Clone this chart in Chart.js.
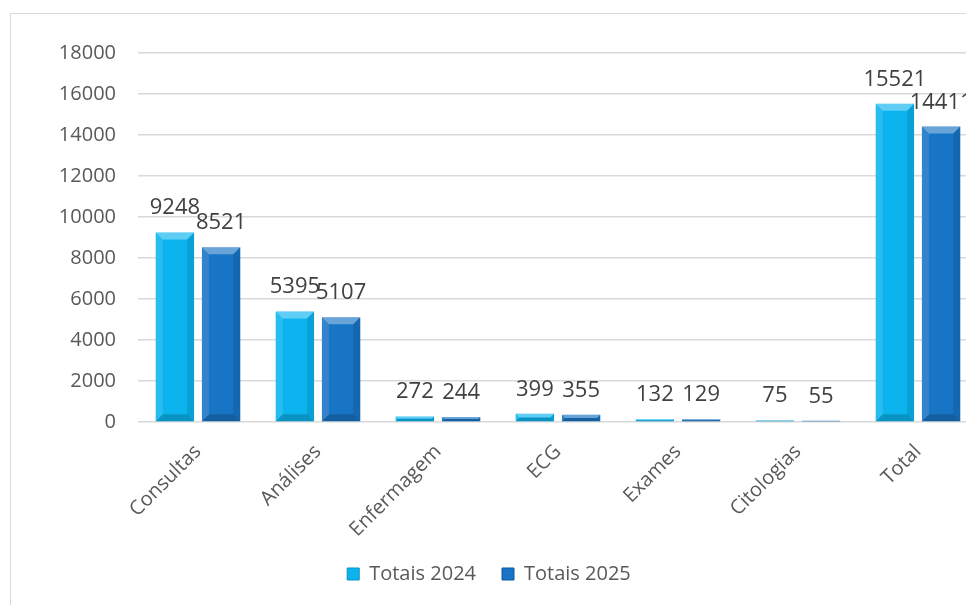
<!DOCTYPE html>
<html>
<head>
<meta charset="utf-8">
<script src="https://cdn.jsdelivr.net/npm/chart.js@4.4.1/dist/chart.umd.min.js"></script>
<style>
  html, body { margin: 0; padding: 0; background: #fff; overflow: hidden; }
  #frame { position: absolute; left: 10px; top: 13px; width: 1100px; height: 700px; border: 1px solid #d9d9d9; }
  #wrap { position: absolute; left: 0; top: 0; width: 1000px; height: 605px; }
</style>
</head>
<body>
<div id="frame"></div>
<div id="wrap"><canvas id="myChart"></canvas></div>
<script>
const categorias = ['Consultas', 'Análises', 'Enfermagem', 'ECG', 'Exames', 'Citologias', 'Total'];
const totais2024 = [9248, 5395, 272, 399, 132, 75, 15521];
const totais2025 = [8521, 5107, 244, 355, 129, 55, 14411];

const cor2024 = '#0BB4EE';
const cor2025 = '#1874C4';

// gradiente horizontal para dar o ar "bisel" do Excel
function gradiente(base, claro) {
    return function (context) {
        const chart = context.chart;
        const el = context.element;
        if (!el || !chart.chartArea || !Number.isFinite(el.x) || !Number.isFinite(el.width)) return base;
        const w = el.width;
        const g = chart.ctx.createLinearGradient(el.x - w / 2, 0, el.x + w / 2, 0);
        g.addColorStop(0, base);
        g.addColorStop(0.45, claro);
        g.addColorStop(1, base);
        return g;
    };
}

const bisel = {
    id: 'bisel',
    afterDatasetsDraw(chart) {
        const ctx = chart.ctx;
        ctx.save();
        chart.data.datasets.forEach((ds, i) => {
            chart.getDatasetMeta(i).data.forEach(bar => {
                const l = bar.x - bar.width / 2, r = bar.x + bar.width / 2;
                const t = bar.y, b = bar.base;
                const e = Math.min(7, (b - t) / 2);
                if (e <= 0) return;
                ctx.fillStyle = 'rgba(255,255,255,0.35)';
                ctx.beginPath();
                ctx.moveTo(l, t); ctx.lineTo(r, t); ctx.lineTo(r - e, t + e); ctx.lineTo(l + e, t + e);
                ctx.closePath(); ctx.fill();
                ctx.fillStyle = 'rgba(0,0,0,0.18)';
                ctx.beginPath();
                ctx.moveTo(l, b); ctx.lineTo(r, b); ctx.lineTo(r - e, b - e); ctx.lineTo(l + e, b - e);
                ctx.closePath(); ctx.fill();
                ctx.fillStyle = 'rgba(0,0,0,0.10)';
                ctx.beginPath();
                ctx.moveTo(r, t); ctx.lineTo(r, b); ctx.lineTo(r - e, b - e); ctx.lineTo(r - e, t + e);
                ctx.closePath(); ctx.fill();
                ctx.fillStyle = 'rgba(255,255,255,0.12)';
                ctx.beginPath();
                ctx.moveTo(l, t); ctx.lineTo(l, b); ctx.lineTo(l + e, b - e); ctx.lineTo(l + e, t + e);
                ctx.closePath(); ctx.fill();
            });
        });
        // valores por cima das barras
        ctx.font = '22px "Open Sans"';
        ctx.fillStyle = '#404040';
        ctx.textAlign = 'center';
        ctx.textBaseline = 'alphabetic';
        chart.data.datasets.forEach((ds, i) => {
            chart.getDatasetMeta(i).data.forEach((bar, j) => {
                ctx.fillText(ds.data[j], bar.x, bar.y - 18);
            });
        });
        ctx.restore();
    }
};

const ctx = document.getElementById('myChart').getContext('2d');

const myChart = new Chart(ctx, {
    type: 'bar',
    data: {
        labels: categorias,
        datasets: [{
            label: 'Totais 2024',
            data: totais2024,
            backgroundColor: gradiente(cor2024, '#35CBFA'),
            categoryPercentage: 0.77,
            barPercentage: 0.83
        },
        {
            label: 'Totais 2025',
            data: totais2025,
            backgroundColor: gradiente(cor2025, '#2A8BDA'),
            categoryPercentage: 0.77,
            barPercentage: 0.83
        }]
    },
    plugins: [bisel],
    options: {
        responsive: true,
        maintainAspectRatio: false,
        animation: false,
        layout: { padding: { top: 53, right: 22, left: 0, bottom: 11 } },
        plugins: {
            tooltip: { enabled: false },
            legend: {
                position: 'bottom',
                labels: {
                    color: '#595959',
                    font: { family: 'Open Sans', size: 20 },
                    boxWidth: 12,
                    boxHeight: 12,
                    padding: 26,
                    generateLabels(chart) {
                        return chart.data.datasets.map((ds, i) => ({
                            text: ds.label,
                            fillStyle: i === 0 ? cor2024 : cor2025,
                            strokeStyle: i === 0 ? '#0A8FC0' : '#0F5A9C',
                            lineWidth: 1,
                            datasetIndex: i,
                            fontColor: '#595959'
                        }));
                    }
                }
            }
        },
        scales: {
            y: {
                min: 0,
                max: 18000,
                ticks: {
                    stepSize: 2000,
                    color: '#595959',
                    font: { family: 'Open Sans', size: 20 },
                    padding: 22,
                    callback: v => String(v)
                },
                grid: { color: '#d9d9d9', lineWidth: 1.5, drawTicks: false },
                border: { display: false },
                afterFit(scale) { scale.width = 138; }
            },
            x: {
                ticks: {
                    color: '#595959',
                    font: { family: 'Open Sans', size: 20 },
                    minRotation: 45,
                    maxRotation: 45,
                    padding: 10
                },
                grid: { display: false },
                border: { display: false },
                afterFit(scale) { scale.height = 116; }
            }
        }
    }
});
</script>
</body>
</html>
